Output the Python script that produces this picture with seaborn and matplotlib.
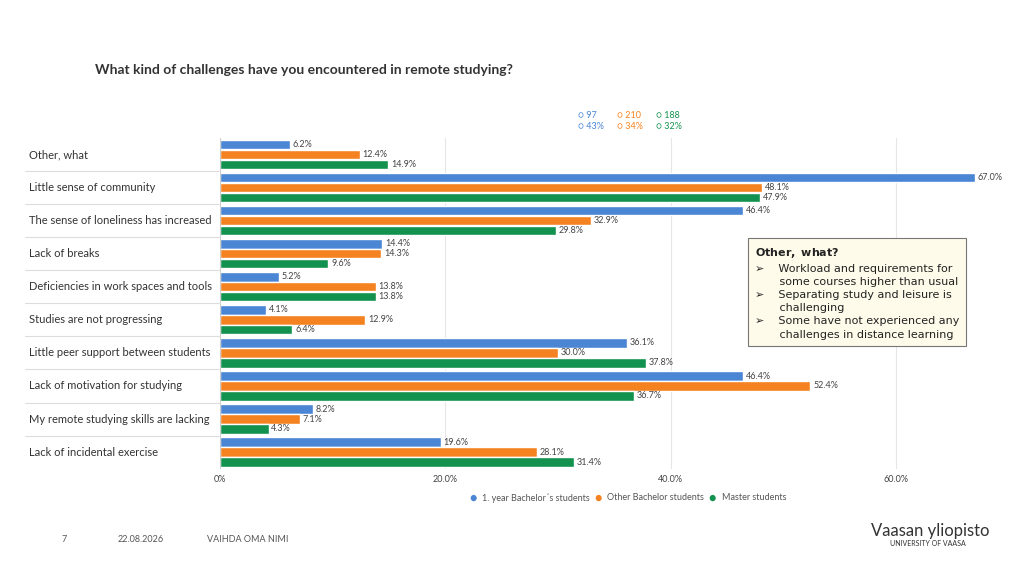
import pandas as pd
import matplotlib.pyplot as plt
import seaborn as sns

categories = ["Other, what", "Little sense of community", "The sense of loneliness has increased",
              "Lack of breaks", "Deficiencies in work spaces and tools", "Studies are not progressing",
              "Little peer support between students", "Lack of motivation for studying",
              "My remote studying skills are lacking", "Lack of incidental exercise"]
groups = ["1. year Bachelor´s students", "Other Bachelor students", "Master students"]
first_year = [6.2, 67.0, 46.4, 14.4, 5.2, 4.1, 36.1, 46.4, 8.2, 19.6]
other_bachelor = [12.4, 48.1, 32.9, 14.3, 13.8, 12.9, 30.0, 52.4, 7.1, 28.1]
master = [14.9, 47.9, 29.8, 9.6, 13.8, 6.4, 37.8, 36.7, 4.3, 31.4]
counts = ["97", "210", "188"]
shares = ["43%", "34%", "32%"]
colors = ["#4a86d4", "#f58220", "#12924e"]

rows = []
for g, vals in zip(groups, [first_year, other_bachelor, master]):
    for c, v in zip(categories, vals):
        rows.append({"cat": c, "group": g, "val": v})
df = pd.DataFrame(rows)

sns.set_style("white")
plt.rcParams['font.family'] = ['Lato', 'DejaVu Sans']
fig = plt.figure(figsize=(10.24, 5.75), dpi=100)
ax = fig.add_axes([0.215, 0.185, 0.77, 0.575])
sns.barplot(data=df, y="cat", x="val", hue="group", palette=colors, orient="h",
            width=0.9, gap=0.05, saturation=1, ax=ax, legend=False)
for cont in ax.containers:
    ax.bar_label(cont, fmt="%.1f%%", fontsize=6.5, color="#444444", padding=2)
ax.set_xlim(0, 70.0)
ax.set_ylim(9.5, -0.5)
ax.set_xticks([0, 20, 40, 60])
ax.set_xticklabels(["0%", "20.0%", "40.0%", "60.0%"], fontsize=6.5, color="#444444")
ax.grid(axis="x", color="#e6e6e6", lw=0.8)
ax.set_axisbelow(True)
ax.set_xlabel("")
ax.set_ylabel("")
ax.set_yticklabels([])
ax.tick_params(left=False, bottom=False, pad=1)
for s in ax.spines.values():
    s.set_visible(False)
ax.axvline(0, color="#cccccc", lw=0.8)

# category labels and separators on the left
lx = -195 / (0.77 * 1024)
for i, c in enumerate(categories):
    ax.text(lx + 0.005, i, c, transform=ax.get_yaxis_transform(), fontsize=8, color="#333333",
            va="center", ha="left")
for i in range(1, 10):
    ax.plot([lx, 0], [i - 0.5, i - 0.5], transform=ax.get_yaxis_transform(),
            color="#dddddd", lw=0.8, clip_on=False)

# bottom legend
for g, col, x in zip(groups, colors, [0.458, 0.58, 0.692]):
    fig.text(x, 0.134, "\u25cf", color=col, fontsize=9, va="center")
    fig.text(x + 0.013, 0.134, g, color="#555555", fontsize=6.5, va="center")

# top counts
for n, p, col, x in zip(counts, shares, colors, [0.564, 0.603, 0.641]):
    fig.text(x, 0.795, "\u25cb " + n, color=col, fontsize=6.5)
    fig.text(x, 0.775, "\u25cb " + p, color=col, fontsize=6.5)

fig.text(0.093, 0.872, "What kind of challenges have you encountered in remote studying?",
         fontsize=10, fontweight="bold", color="#333333")

box = ("$\\bf{Other,\\ what?}$\n"
       "\u27a2    Workload and requirements for\n       some courses higher than usual\n"
       "\u27a2    Separating study and leisure is\n       challenging\n"
       "\u27a2    Some have not experienced any\n       challenges in distance learning")
fig.text(0.737, 0.413, box, fontsize=8, color="#222222",
         linespacing=1.4, family=['DejaVu Sans'],
         bbox=dict(boxstyle="square,pad=0.6", fc="#fffbea", ec="#777777", lw=0.8))

fig.text(0.06, 0.058, "7", fontsize=6.5, color="#555555")
fig.text(0.115, 0.058, "22.08.2026", fontsize=6.5, color="#555555")
fig.text(0.202, 0.058, "VAIHDA OMA NIMI", fontsize=6.5, color="#555555")
fig.text(0.851, 0.068, "Vaasan yliopisto", fontsize=12, color="#333333")
fig.text(0.869, 0.05, "UNIVERSITY OF VAASA", fontsize=5, color="#333333")

fig.savefig("out.png", dpi=100)
